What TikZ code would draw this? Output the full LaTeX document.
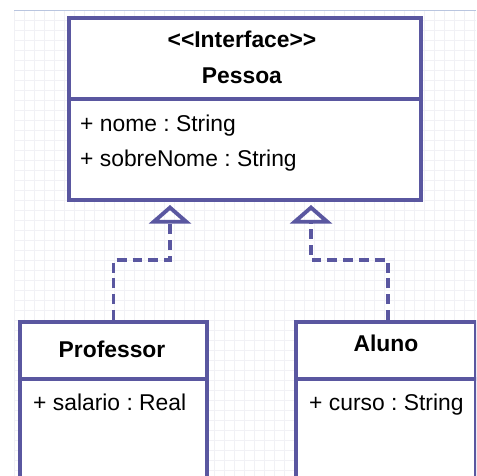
\documentclass[tikz,border=0pt]{standalone}
\usepackage{fontspec}
\setmainfont{Liberation Sans}
\setsansfont{Liberation Sans}
\usetikzlibrary{arrows.meta}
\frenchspacing

\definecolor{umlblue}{HTML}{5A57A0}
\definecolor{gridgray}{HTML}{F1F1F5}
\definecolor{edgeblue}{HTML}{B9C5DF}

\tikzset{
	classbox/.style={draw=umlblue, line width=3.3pt, fill=white, anchor=north west, inner sep=0pt},
	divider/.style={draw=umlblue, line width=3.3pt},
	umltext/.style={font=\fontsize{19.5}{23}\selectfont, inner sep=0pt},
	realize/.style={draw=umlblue, line width=3.3pt, dash pattern=on 8.5pt off 5pt,
		-{Triangle[open, width=36pt, length=16pt, line width=3.3pt, sep=0pt]}}
}

\begin{document}
\begin{tikzpicture}[x=0.03cm, y=-0.03cm]
			\useasboundingbox (0,0) rectangle (476,476);
			\clip (0,0) rectangle (476,476);
			
			% Draw background grid
			\fill[white] (0,0) rectangle (476,476);
			\foreach \gx in {14,24,...,474}
				\draw[gridgray, line width=0.4pt] (\gx,10) -- (\gx,476);
			\foreach \gy in {20,30,...,470}
				\draw[gridgray, line width=0.4pt] (14,\gy) -- (476,\gy);
			\draw[edgeblue, line width=0.8pt] (14,10) -- (476,10);
			
			% Interface box
			\node[classbox, minimum width=10.56cm, minimum height=5.46cm] (pessoa) at (67,16) {};
			\draw[divider] (pessoa.west |- 0,99) -- (pessoa.east |- 0,99);
			\node[umltext, anchor=base] (stereo) at (242,47) {\textbf{{<}{<}Interface{>}{>}}};
			\node[umltext, anchor=base] (pname) at (242,83) {\textbf{Pessoa}};
			\node[umltext, anchor=base west] (nome) at (80,131) {+ nome : String};
			\node[umltext, anchor=base west] (sobrenome) at (80,166) {+ sobreNome : String};
			
			% Class boxes
			\node[classbox, minimum width=5.61cm, minimum height=5.7cm] (prof) at (18,320) {};
			\draw[divider] (prof.west |- 0,379) -- (prof.east |- 0,379);
			\node[umltext, anchor=base] (pfname) at (112,357) {\textbf{Professor}};
			\node[umltext, anchor=base west] (salario) at (33,410) {+ salario : Real};
			
			\node[classbox, minimum width=5.4cm, minimum height=5.7cm] (aluno) at (294,320) {};
			\draw[divider] (aluno.west |- 0,379) -- (aluno.east |- 0,379);
			\node[umltext, anchor=base] (alname) at (386,351) {\textbf{Aluno}};
			\node[umltext, anchor=base west] (curso) at (309,410) {+ curso : String};
			
			% Realization arrows
			\coordinate (kneeL) at (170,260);
			\coordinate (tipL) at (170,205);
			\coordinate (kneeR) at (311,260);
			\coordinate (tipR) at (311,205);
			\draw[realize] (prof.north) |- (kneeL) -- (tipL);
			\draw[realize] (aluno.north -| 388,0) |- (kneeR) -- (tipR);
			
		\end{tikzpicture}
\end{document}
